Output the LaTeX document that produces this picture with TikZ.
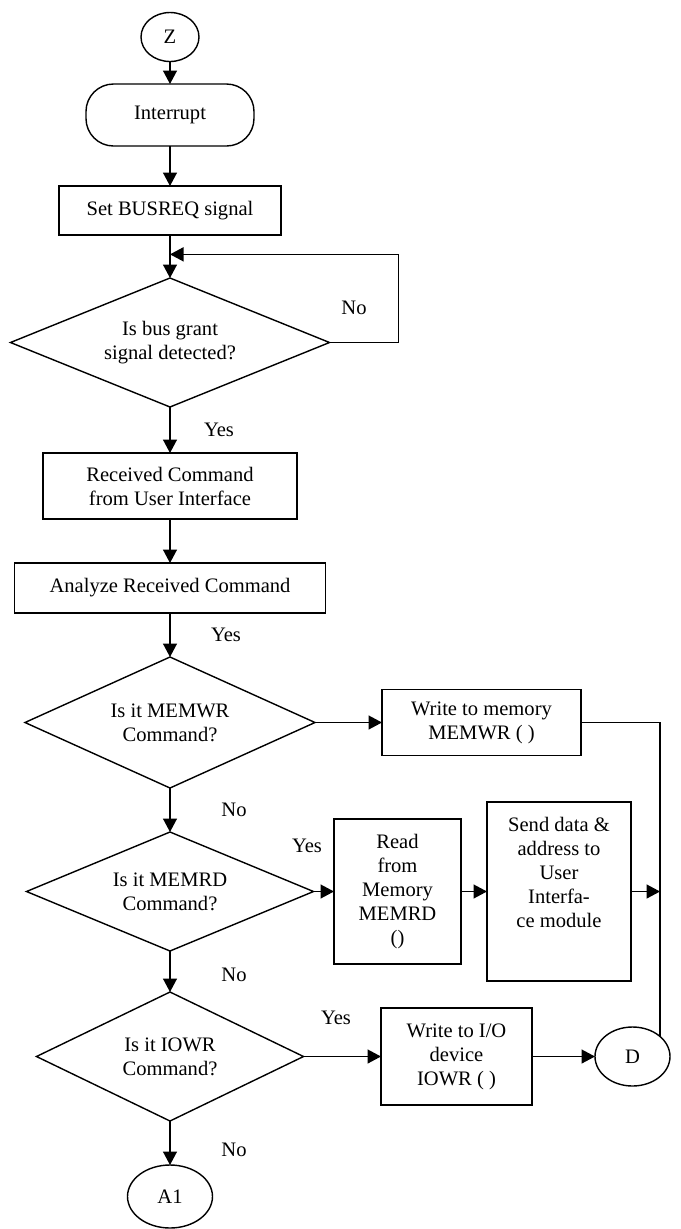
\documentclass[tikz,border=0pt]{standalone}
\usepackage{fontspec}
\setmainfont{Liberation Serif}
\usepackage{tikz}
\usetikzlibrary{shapes.geometric, arrows.meta, positioning, calc}
\tikzset{
  every node/.style={font=\fontsize{11.7pt}{13.7pt}\selectfont, outer sep=0pt},
  box/.style={rectangle, draw, align=center, line width=0.8pt, inner sep=2pt},
  decision/.style={diamond, draw, align=center, shape aspect=2.5, line width=0.8pt, inner sep=0pt},
  terminal/.style={rectangle, draw, rounded corners=0.55cm, align=center, line width=0.8pt},
  connector/.style={ellipse, draw, line width=0.8pt, inner sep=1pt},
  txt/.style={align=center, inner sep=0pt},
  lbl/.style={inner sep=1pt},
  arrow/.style={-{Triangle[length=0.27cm, width=0.28cm]}, line width=0.8pt},
  line/.style={line width=0.8pt}
}
\begin{document}
\begin{tikzpicture}
  \useasboundingbox (0,0) rectangle (13.62,-24.58);

  % Main column
  \node[connector, minimum width=1.16cm, minimum height=0.98cm] (z) at (3.40,-0.74) {Z};
  \node[terminal, below=0.45cm of z, minimum width=3.36cm, minimum height=1.24cm] (intr) {Interrupt};
  \node[box, below=0.8cm of intr, minimum width=4.44cm, minimum height=0.98cm] (busreq) {Set BUSREQ signal};
  \node[decision, below=0.86cm of busreq, minimum width=6.38cm, minimum height=2.58cm] (d1) {Is bus grant\\signal detected?};
  \node[box, below=0.92cm of d1, minimum width=5.08cm, minimum height=1.32cm] (recv) {Received Command\\from User Interface};
  \node[box, below=0.88cm of recv, minimum width=6.22cm, minimum height=1.0cm] (anlz) {Analyze Received Command};
  \node[decision, below=0.88cm of anlz, minimum width=5.8cm, minimum height=2.62cm] (d2) {Is it MEMWR\\Command?};
  \node[decision, below=0.88cm of d2, minimum width=5.74cm, minimum height=2.38cm] (d3) {Is it MEMRD\\Command?};
  \node[decision, below=0.82cm of d3, minimum width=5.34cm, minimum height=2.58cm] (d4) {Is it IOWR\\Command?};
  \node[connector, below=0.88cm of d4, minimum width=1.7cm, minimum height=1.26cm] (a1) {A1};

  % Side branches
  \node[box, right=1.34cm of d2, minimum width=3.98cm, minimum height=1.32cm] (wmem) {Write to memory\\MEMWR ( )};
  \node[box, right=0.41cm of d3, minimum width=2.54cm, minimum height=2.9cm] (rmem) {Read\\from\\Memory\\MEMRD\\()};
  \node[box, right=0.52cm of rmem, minimum width=2.88cm, minimum height=3.58cm] (send) {};
  \node[txt, below=0.3cm of send.north] (sendtxt) {Send data \&\\address to\\User\\Interfa-\\ce module};
  \node[box, right=1.55cm of d4, minimum width=3.02cm, minimum height=1.94cm] (wio) {Write to I/O\\device\\IOWR ( )};
  \node[connector, right=1.26cm of wio, minimum width=1.5cm, minimum height=1.18cm] (dconn) {D};

  % Labels
  \node[lbl] (no1) at ($(d1.east)+(0.49,0.7)$) {No};
  \node[lbl] (yes1) at ($(d1.south)+(0.98,-0.46)$) {Yes};
  \node[lbl] (yes2) at ($(anlz.south)+(1.12,-0.44)$) {Yes};
  \node[lbl] (no2) at ($(d2.south)+(1.28,-0.44)$) {No};
  \node[lbl] (yes3) at ($(d3.east)+(-0.13,0.91)$) {Yes};
  \node[lbl] (no3) at ($(d3.south)+(1.28,-0.48)$) {No};
  \node[lbl] (yes4) at ($(d4.east)+(0.65,0.77)$) {Yes};
  \node[lbl] (no4) at ($(d4.south)+(1.28,-0.58)$) {No};

  % Arrows
  \coordinate (loop) at ($(busreq.south)!0.45!(d1.north)$);
  \draw[arrow] (z) -- (intr);
  \draw[arrow] (intr) -- (busreq);
  \draw[arrow] (busreq) -- (d1);
  \draw[arrow] (d1.east) -- ++(1.38,0) |- (loop);
  \draw[arrow] (d1) -- (recv);
  \draw[arrow] (recv) -- (anlz);
  \draw[arrow] (anlz) -- (d2);
  \draw[arrow] (d2) -- (d3);
  \draw[arrow] (d3) -- (d4);
  \draw[arrow] (d4) -- (a1);
  \draw[arrow] (d2) -- (wmem);
  \draw[arrow] (d3) -- (rmem);
  \draw[arrow] (rmem) -- (send);
  \draw[arrow] (d4) -- (wio);
  \draw[arrow] (wio) -- (dconn);
  \draw[line] (wmem) -| (dconn.36);
  \draw[arrow] (send) -- (send -| dconn.36);
\end{tikzpicture}
\end{document}
